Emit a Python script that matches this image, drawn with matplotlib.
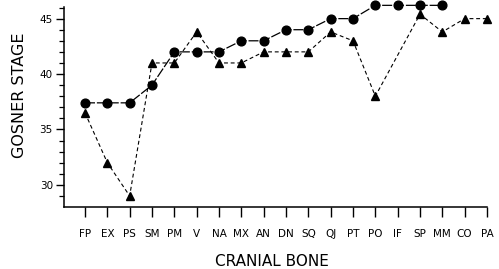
import numpy as np
import matplotlib
matplotlib.use("Agg")
import matplotlib.pyplot as plt

# cranial bones along the x axis
bones = ["FP", "EX", "PS", "SM", "PM", "V", "NA", "MX", "AN", "DN",
         "SQ", "QJ", "PT", "PO", "IF", "SP", "MM", "CO", "PA"]

# circles (solid line); CO and PA have no value
circle_stage = [37.4, 37.4, 37.4, 39.0, 42.0, 42.0, 42.0, 43.0, 43.0, 44.0,
                44.0, 45.0, 45.0, 46.2, 46.2, 46.2, 46.2, None, None]

# triangles (dashed line); IF has no value
tri_stage = [36.5, 32.0, 29.0, 41.0, 41.0, 43.8, 41.0, 41.0, 42.0, 42.0,
             42.0, 43.8, 43.0, 38.0, None, 45.4, 43.8, 45.0, 45.0]

plt.rcParams["font.family"] = ["DejaVu Sans"]

fig = plt.figure(figsize=(4.99, 2.69), dpi=100)
ax = fig.add_axes([64 / 499, 1 - 207 / 269, 423 / 499, 200 / 269])

xc = [i for i, v in enumerate(circle_stage) if v is not None]
yc = [v for v in circle_stage if v is not None]
xt = [i for i, v in enumerate(tri_stage) if v is not None]
yt = [v for v in tri_stage if v is not None]

ax.plot(xt, yt, color="black", lw=0.8, dashes=(3.5, 2.5),
        marker="^", ms=5.5, clip_on=False, zorder=3)
ax.plot(xc, yc, color="black", lw=0.9, dashes=(8, 1.5),
        marker="o", ms=6.3, clip_on=False, zorder=4)

ax.set_xlim(-0.94, 18)
ax.set_ylim(28.0, 46.05)
ax.set_xticks(range(len(bones)))
ax.set_xticklabels(bones)
ax.set_yticks([30, 35, 40, 45])
ax.set_yticks(np.arange(29, 47, 1), minor=True)

for side in ["top", "right"]:
    ax.spines[side].set_visible(False)
for side in ["left", "bottom"]:
    ax.spines[side].set_linewidth(1.1)

ax.tick_params(axis="x", direction="out", length=7.5, width=1.0, pad=8,
               labelsize=7.5)
ax.tick_params(axis="y", which="major", direction="out", length=6, width=1.0,
               pad=2, labelsize=7.5)
ax.tick_params(axis="y", which="minor", direction="out", length=3.6, width=0.9)

ax.set_xlabel("CRANIAL BONE", fontsize=11)
ax.set_ylabel("GOSNER STAGE", fontsize=11.5)
ax.xaxis.set_label_coords((272 - 64) / 423, -(261 - 207) / 200)
ax.xaxis.label.set_va("center")
ax.yaxis.set_label_coords((20 - 64) / 423, (207 - 95) / 200)
ax.yaxis.label.set_va("center")

fig.savefig("out.png", dpi=100)
